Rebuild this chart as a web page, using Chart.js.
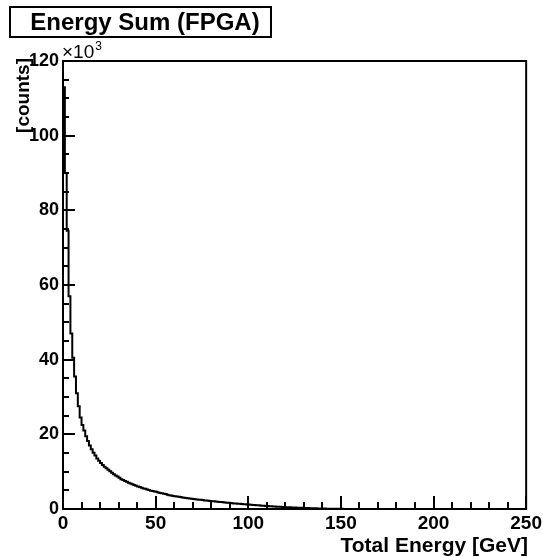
<!DOCTYPE html>
<html><head><meta charset="utf-8">
<script src="https://cdn.jsdelivr.net/npm/chart.js@4"></script>
<style>html,body{margin:0;padding:0;background:#fff;overflow:hidden}#wrap{width:543px;height:557px;position:relative}</style>
</head><body><div id="wrap"><canvas id="c" width="543" height="557"></canvas></div>
<script>
const chartTitle = 'Energy Sum (FPGA)';
const xAxisTitle = 'Total Energy [GeV]';
const yAxisTitle = '[counts]';
const yMultiplier = '\u00d710';
const yMultiplierExp = '3';
const binWidthGeV = 1;
const xRange = [0, 250];
const yRange = [0, 120];
const xTickStep = 50;
const yTickStep = 20;
// counts per 1 GeV bin, in thousands, bins starting at 0 GeV
const countsK = [
 114, 113, 90, 74.5, 57, 47, 40.5, 35.5, 31, 27.5,
 24.5, 22.5, 21, 19.5, 18.2, 17.0, 16.0, 15.1, 14.3, 13.5,
 12.9, 12.3, 11.8, 11.3, 10.9, 10.5, 10.1, 9.7, 9.3, 9.0,
 8.7, 8.4, 8.0, 7.8, 7.5, 7.3, 7.0, 6.8, 6.6, 6.4,
 6.2, 6.0, 5.9, 5.7, 5.5, 5.4, 5.2, 5.1, 4.9, 4.8,
 4.7, 4.6, 4.4, 4.3, 4.2, 4.1, 4.0, 3.8, 3.7, 3.6,
 3.5, 3.4, 3.35, 3.25, 3.2, 3.1, 3.0, 2.95, 2.85, 2.8,
 2.75, 2.7, 2.6, 2.55, 2.5, 2.45, 2.4, 2.3, 2.25, 2.2,
 2.15, 2.1, 2.05, 2.0, 1.95, 1.9, 1.85, 1.8, 1.75, 1.7,
 1.65, 1.6, 1.55, 1.5, 1.45, 1.42, 1.38, 1.34, 1.3, 1.26,
 1.22, 1.18, 1.14, 1.1, 1.06, 1.02, 0.98, 0.94, 0.9, 0.86,
 0.82, 0.79, 0.76, 0.72, 0.69, 0.66, 0.63, 0.6, 0.57, 0.54,
 0.52, 0.49, 0.47, 0.44, 0.42, 0.40, 0.38, 0.36, 0.34, 0.32,
 0.30, 0.28, 0.26, 0.24, 0.22, 0.20, 0.19, 0.17, 0.16, 0.14,
 0.13, 0.12, 0.11, 0.10, 0.09, 0.08, 0.07, 0.06, 0.05, 0.05,
 0.04, 0.04, 0.03, 0.03, 0.02, 0.02, 0.02, 0.01, 0.01, 0.01,
 0
];

const FONT = '"Liberation Sans", Arial, Helvetica, sans-serif';

// histogram outline points: left edge of each bin + final closing edge
const histPoints = [{x: xRange[0], y: 0}];
countsK.forEach((v, i) => histPoints.push({x: xRange[0] + i * binWidthGeV, y: v}));
histPoints.push({x: xRange[1], y: 0});

const rootDecor = {
  id: 'rootDecor',
  afterDraw(chart) {
    const ctx = chart.ctx;
    const a = chart.chartArea;
    const xs = chart.scales.x, ys = chart.scales.y;
    ctx.save();
    ctx.strokeStyle = '#000';
    ctx.fillStyle = '#000';
    // ticks
    ctx.lineWidth = 2;
    ctx.beginPath();
    for (let v = xRange[0]; v <= xRange[1]; v += xTickStep / 5) {
      const px = Math.round(xs.getPixelForValue(v));
      const len = (v % xTickStep === 0) ? 13 : 7;
      ctx.moveTo(px, a.bottom); ctx.lineTo(px, a.bottom - len);
    }
    for (let v = yRange[0]; v <= yRange[1]; v += yTickStep / 4) {
      const py = Math.round(ys.getPixelForValue(v));
      const len = (v % yTickStep === 0) ? 12 : 6;
      ctx.moveTo(a.left, py); ctx.lineTo(a.left + len, py);
    }
    ctx.stroke();
    // frame
    ctx.lineWidth = 2;
    ctx.strokeRect(a.left, a.top, a.right - a.left, a.bottom - a.top);
    // title box
    ctx.lineWidth = 2;
    ctx.strokeRect(10, 7, 261, 30);
    ctx.font = 'bold 24px ' + FONT;
    ctx.textAlign = 'center';
    ctx.textBaseline = 'alphabetic';
    ctx.fillText(chartTitle, 145, 30);
    // x title
    ctx.font = 'bold 21px ' + FONT;
    ctx.textAlign = 'right';
    ctx.fillText(xAxisTitle, 528, 552);
    // y title
    ctx.save();
    ctx.translate(29, 58);
    ctx.rotate(-Math.PI / 2);
    ctx.textAlign = 'right';
    ctx.font = 'bold 19px ' + FONT;
    ctx.fillText(yAxisTitle, 0, 0);
    ctx.restore();
    // multiplier
    ctx.textAlign = 'left';
    ctx.font = '19px ' + FONT;
    ctx.fillText(yMultiplier, 62, 58);
    const w = ctx.measureText(yMultiplier).width;
    ctx.font = '12px ' + FONT;
    ctx.fillText(yMultiplierExp, 62 + w + 1, 50);
    ctx.restore();
  }
};

new Chart(document.getElementById('c'), {
  type: 'line',
  data: {
    datasets: [{
      data: histPoints,
      stepped: 'after',
      borderColor: '#000',
      borderWidth: 2,
      pointRadius: 0,
      fill: false,
      tension: 0
    }]
  },
  options: {
    responsive: false,
    animation: false,
    devicePixelRatio: 1,
    layout: {padding: {left: 0, top: 61, right: 16, bottom: 0}},
    plugins: {legend: {display: false}, tooltip: {enabled: false}, title: {display: false}},
    scales: {
      x: {
        type: 'linear', min: xRange[0], max: xRange[1],
        afterFit: s => { s.height = 48; },
        ticks: {stepSize: xTickStep, color: '#000', font: {family: FONT, size: 19, weight: 'bold'}, padding: 1, maxRotation: 0, autoSkip: false},
        grid: {drawOnChartArea: false, drawTicks: true, tickLength: 2, tickColor: 'rgba(0,0,0,0)'},
        border: {display: false}
      },
      y: {
        type: 'linear', min: yRange[0], max: yRange[1],
        afterFit: s => { s.width = 63; },
        ticks: {stepSize: yTickStep, color: '#000', font: {family: FONT, size: 18, weight: 'bold'}, padding: 2},
        grid: {drawOnChartArea: false, drawTicks: true, tickLength: 2, tickColor: 'rgba(0,0,0,0)'},
        border: {display: false}
      }
    }
  },
  plugins: [rootDecor]
});
</script>
</body></html>
